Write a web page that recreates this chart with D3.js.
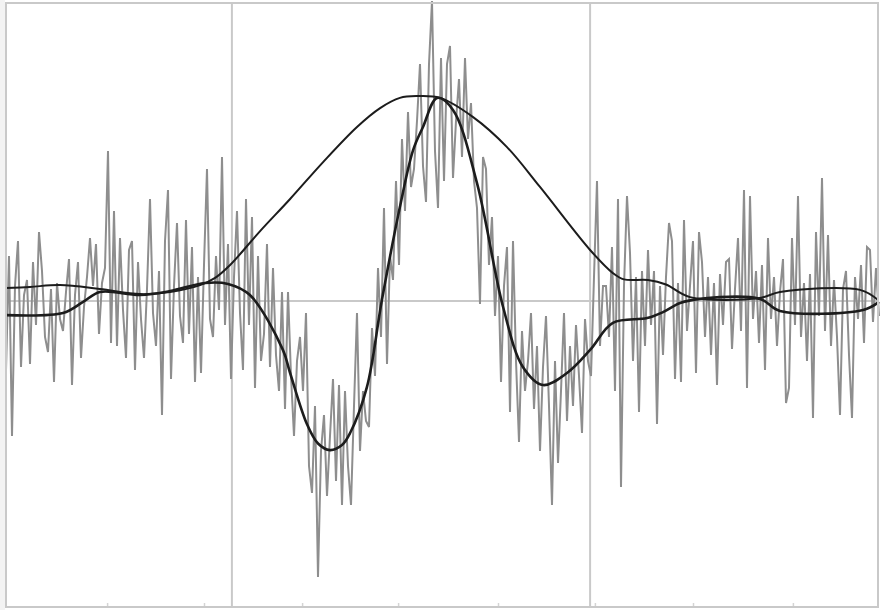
<!DOCTYPE html>
<html>
<head>
<meta charset="utf-8">
<script src="https://cdn.jsdelivr.net/npm/d3@7"></script>
<style>
  body { margin: 0; background: #fff; }
</style>
</head>
<body>
<div id="root"></div>
<script>
// DIMENSIONS
let width = 882,
  height = 610;

// raw noisy signal, one value per sample
const noiseValues = [
  -23, 15, -45, 5, 20, -22, 2, 7, -21, 13,
  -8, 23, 10, -12, -17, 4, -27, 6, -6, -10,
  3, 14, -28, 2, 13, -19, -2, 8, 21, 5,
  19, -11, 6, 11, 50, -14, 30, -15, 21, -3,
  -19, 17, 20, -23, 13, -6, -19, 4, 34, -4,
  -15, 10, -38, 20, 37, -26, 5, 26, -5, -14,
  27, -11, 18, -27, 8, -24, 12, 44, -6, -12,
  15, -3, 48, -8, 19, -26, 8, 30, -4, -23,
  34, -8, 28, -29, 15, -20, -11, 19, -22, 11,
  -18, -30, 3, -36, 3, -25, -45, -20, -12, -30,
  -4, -55, -64, -35, -92, -50, -38, -65, -45, -26,
  -60, -28, -68, -30, -55, -68, -35, -4, -50, -30,
  -40, -42, -9, -25, 11, -12, 31, -21, 15, 7,
  40, 12, 54, 30, 63, 38, 44, 60, 79, 45,
  33, 79, 100, 50, 31, 81, 40, 79, 85, 41,
  60, 74, 48, 81, 54, 66, 40, 31, -1, 48,
  44, 12, 28, -5, 15, -27, 5, 18, -37, 20,
  -20, -47, -10, -30, -20, -4, -36, -15, -50, -22,
  -5, -35, -68, -20, -54, -30, -4, -40, -15, -35,
  -8, -25, -44, -6, -20, -25, 8, 40, -15, 5,
  5, -12, 18, -30, 34, -62, 5, 35, 16, -20,
  8, -37, 10, -15, 17, -8, 10, -41, 5, -18,
  8, 26, 20, -26, 6, -27, 27, -10, 5, 20,
  -24, 23, 13, -12, 8, -18, 6, -28, 9, -8,
  13, 14, -16, 4, 21, -10, 37, -29, 35, -6,
  10, -14, 12, -23, 21, -6, 8, -15, 3, 14,
  -34, -29, 21, -8, 35, -12, 6, -20, 9, -39,
  23, -5, 41, -10, 22, -15, 7, -12, -38, 4,
  10, -18, -39, 8, -6, 12, -14, 18, 17, -7,
  11, -5
];

// wide smooth envelope
const gaussX = [0, 8, 18, 31.3, 44.7, 54.7, 64.7, 69.7, 74.7, 84.7, 94.7, 105.7, 117, 124.7, 131.3, 137, 144.7, 155.7, 167, 178, 194.7, 202.3, 206, 214, 220, 228, 251.3, 258, 284.7, 290.7];
const gaussY = [4.3, 4.7, 5.3, 4, 2.3, 3, 5.3, 7.7, 12, 23.3, 34, 46.3, 58, 64.3, 67.7, 68.3, 67.7, 61.3, 51.3, 38, 17, 9.3, 7.2, 7, 5.5, 1.3, 1, 3, 3.7, 0.3];

// filtered (wavelet like) curve
const hatX = [0, 19, 25.7, 31.3, 44.7, 54.7, 66.3, 74, 81.3, 92.3, 94.7, 100.3, 104, 108, 112, 114.7, 120.3, 125.3, 131.3, 135.7, 139, 143.7, 149, 157, 165.7, 172.3, 179, 187, 194.7, 202.3, 213.7, 219, 224.7, 231.3, 251.3, 258, 285.7, 291];
const hatY = [-4.7, -4, -0.3, 3, 2, 3.3, 6, 5.7, 2, -16.3, -24, -41, -47.5, -49.7, -48, -44, -28.7, 0.3, 31.3, 50.3, 58, 67.7, 63.7, 39.3, -2, -22, -28, -24, -16.3, -7.3, -5.7, -3.7, -0.7, 0.7, 0.7, -3.3, -3, -0.3];

// grid + ticks
const gridX = [75.3, 194.7];
const gridY = [0];
const tickX = [33.7, 66, 98.7, 130.7, 164, 196.3, 229, 262.3];

let svg = d3.select('#root')
  .append('svg')
  .attr('width', width)
  .attr('height', height)
  .style('background-color', '#fff');

let xScale = d3.scaleLinear()
  .domain([0, 291])
  .range([6, 879]);

let yScale = d3.scaleLinear()
  .domain([-102, 99.33])
  .range([607, 3]);

const gridColor = '#c9c9c9';

// faint strip left of the frame
svg.append('rect')
  .attr('x', 0).attr('y', 0)
  .attr('width', 5).attr('height', height)
  .attr('fill', '#f3f3f3');

// grid lines
svg.selectAll('.grid-x')
  .data(gridX)
  .enter()
  .append('line')
  .attr('x1', d => xScale(d)).attr('x2', d => xScale(d))
  .attr('y1', yScale.range()[1]).attr('y2', yScale.range()[0])
  .attr('stroke', gridColor)
  .attr('stroke-width', 2);

svg.selectAll('.grid-y')
  .data(gridY)
  .enter()
  .append('line')
  .attr('x1', 6).attr('x2', 878)
  .attr('y1', d => yScale(d)).attr('y2', d => yScale(d))
  .attr('stroke', gridColor)
  .attr('stroke-width', 2);

// small ticks along the bottom
let xAxis = svg.append('g')
  .attr('transform', `translate(0, 606)`)
  .call(d3.axisBottom(xScale).tickValues(tickX).tickSize(-3).tickFormat(''));
xAxis.select('.domain').remove();
xAxis.selectAll('line').attr('stroke', '#d4d4d4').attr('stroke-width', 1.5);

// noisy signal
let noiseLine = d3.line()
  .x((d, i) => xScale(i))
  .y(d => yScale(d));

svg.append('path')
  .datum(noiseValues)
  .attr('d', noiseLine)
  .style('fill', 'none')
  .style('stroke', '#8e8e8e')
  .style('stroke-width', 2)
  .style('stroke-linejoin', 'miter');

// smooth curves
let smoothLine = d3.line()
  .x(d => xScale(d[0]))
  .y(d => yScale(d[1]))
  .curve(d3.curveCatmullRom.alpha(0.5));

svg.append('path')
  .datum(gaussX.map((x, i) => [x, gaussY[i]]))
  .attr('d', smoothLine)
  .style('fill', 'none')
  .style('stroke', '#1c1c1c')
  .style('stroke-width', 2);

svg.append('path')
  .datum(hatX.map((x, i) => [x, hatY[i]]))
  .attr('d', smoothLine)
  .style('fill', 'none')
  .style('stroke', '#1c1c1c')
  .style('stroke-width', 2.6);

// frame
svg.append('rect')
  .attr('x', 6).attr('y', 3)
  .attr('width', 872).attr('height', 604)
  .attr('fill', 'none')
  .attr('stroke', gridColor)
  .attr('stroke-width', 2);
</script>
</body>
</html>
